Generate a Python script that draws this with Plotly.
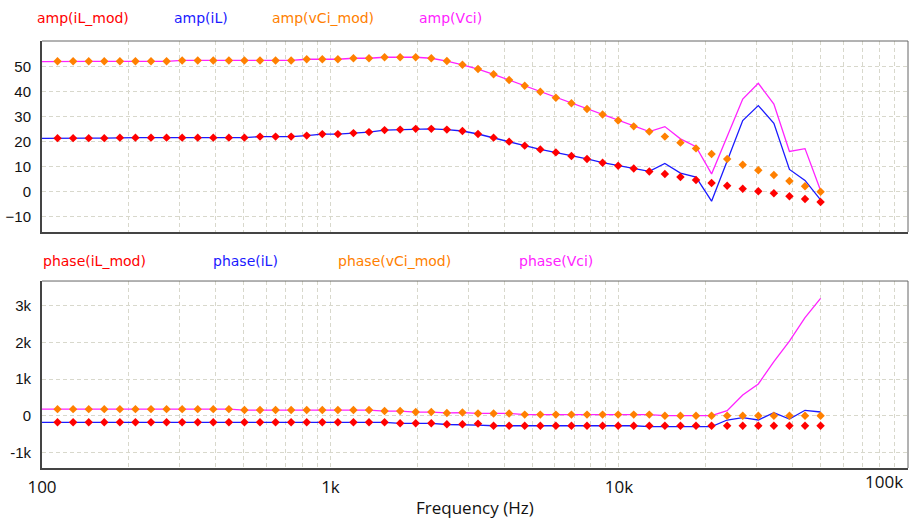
import plotly.graph_objects as go

# Frequency points (Hz); index 0 is the 100 Hz start of the curves
freq = [100, 113.2, 128.2, 145.2, 164.4, 186.2, 210.8, 238.7, 270.3, 306.1, 346.6,
        392.4, 444.4, 503.2, 569.8, 645.2, 730.6, 827.3, 936.8, 1060.8, 1201.1,
        1360.1, 1540.1, 1743.9, 1974.7, 2236.1, 2532.0, 2867.1, 3246.6, 3676.3, 4162.8,
        4713.8, 5337.7, 6044.1, 6844.0, 7750, 8775.7, 9937.2, 11252, 12741, 14427,
        16337, 18499, 20947, 23720, 26859, 30414, 34440, 38998, 44159, 50000]
freq_mod = freq[1:]

# Amplitude
amp_iL_mod = [21.5, 21.5, 21.5, 21.5, 21.7, 21.7, 21.7, 21.7, 21.7, 21.7, 21.7, 21.7, 21.7,
              22.1, 22.1, 22.1, 22.5, 23.1, 23.1, 23.5, 23.9, 24.7, 24.9, 25.2, 25.2, 24.9,
              24.35, 23.15, 21.7, 20.1, 18.5, 17.0, 15.8, 14.4, 13.2, 11.7, 10.5, 9.4, 8.2,
              7.2, 6.0, 4.8, 3.6, 2.5, 1.3, 0.3, -0.5, -1.7, -2.8, -4.0]
amp_iL = [21.4, 21.5, 21.5, 21.5, 21.5, 21.7, 21.7, 21.7, 21.7, 21.7, 21.7, 21.7, 21.7, 21.7,
          22.1, 22.1, 22.1, 22.5, 23.1, 23.1, 23.5, 23.9, 24.7, 24.9, 25.2, 25.2, 24.9,
          24.35, 23.15, 21.7, 20.1, 18.5, 17.0, 15.8, 14.4, 13.2, 11.7, 10.5, 9.4, 8.2,
          11.4, 7.5, 5.9, -3.7, 12.4, 28.5, 34.5, 27.4, 9.0, 4.6, -3.2]
amp_vCi_mod = [52.2, 52.2, 52.2, 52.2, 52.2, 52.2, 52.2, 52.2,
               52.55, 52.55, 52.55, 52.55, 52.55, 52.55, 52.55, 52.55,
               53.0, 53.0, 53.0, 53.4, 53.4, 53.8, 53.8, 53.8, 53.4, 52.3,
               50.8, 49.1, 47.0, 44.7, 42.4, 40.0, 37.6, 35.4, 33.1, 30.9, 28.5, 26.2, 24.1,
               22.1, 19.7, 17.4, 15.2, 13.2, 10.9, 8.7, 6.8, 4.4, 2.3, 0.1]
amp_Vci = [52.1, 52.2, 52.2, 52.2, 52.2, 52.2, 52.2, 52.2, 52.2,
           52.55, 52.55, 52.55, 52.55, 52.55, 52.55, 52.55, 52.55,
           53.0, 53.0, 53.0, 53.4, 53.4, 53.8, 53.8, 53.8, 53.4, 52.3,
           50.8, 49.1, 47.0, 44.7, 42.4, 40.0, 37.6, 35.4, 33.1, 30.9, 28.5, 26.2, 24.1,
           26.1, 21.2, 18.1, 7.2, 22.1, 37.1, 43.4, 35.1, 16.2, 17.3, 0.6]

# Phase
ph_iL_mod = [-180] * 22 + [-208, -208, -208, -235, -235, -217] + [-273] * 22
ph_iL = [-185] * 23 + [-210, -210, -210, -240, -240, -255] + [-275] * 10 + \
        [-300, -300, -300, -300, -300, -118, -55, -118, 82, -90, 148, 101]
ph_vCi_mod = [180] * 12 + [155] * 9 + [128, 128, 100, 100, 75, 85, 62, 62, 62] + \
             [30] * 9 + [0] * 11
ph_Vci = [180] + [180] * 12 + [155] * 9 + [128, 128, 100, 100, 75, 85, 62, 62, 62] + \
         [30] * 9 + [0] * 4 + [137, 566, 867, 1476, 2042, 2680, 3209]

# Axis ticks
x_tickvals = [100, 200, 300, 400, 500, 600, 700, 800, 900,
              1000, 2000, 3000, 4000, 5000, 6000, 7000, 8000, 9000,
              10000, 20000, 30000, 40000, 50000, 60000, 70000, 80000, 90000, 100000]
x_ticktext = ["100", "", "", "", "", "", "", "", "",
              "1k", "", "", "", "", "", "", "", "",
              "10k", "", "", "", "", "", "", "", "", ""]
x_edge_label = "100k"   # drawn right-aligned at the plot edge, as in the reference
amp_ticks = [-10, 0, 10, 20, 30, 40, 50]
ph_ticks = [-1000, 0, 1000, 2000, 3000]
ph_ticktext = ["-1k", "0", "1k", "2k", "3k"]

C_RED = "#ff0000"
C_BLUE = "#1a1aff"
C_ORANGE = "#ff8000"
C_MAG = "#ff22ff"
MSIZE = 6.5

fig = go.Figure()
# top: amplitude
fig.add_trace(go.Scatter(x=freq, y=amp_iL, mode="lines", line=dict(color=C_BLUE, width=1.3),
                         xaxis="x", yaxis="y", name="amp(iL)"))
fig.add_trace(go.Scatter(x=freq, y=amp_Vci, mode="lines", line=dict(color=C_MAG, width=1.3),
                         xaxis="x", yaxis="y", name="amp(Vci)"))
fig.add_trace(go.Scatter(x=freq_mod, y=amp_iL_mod, mode="markers",
                         marker=dict(color=C_RED, symbol="diamond", size=MSIZE),
                         xaxis="x", yaxis="y", name="amp(iL_mod)"))
fig.add_trace(go.Scatter(x=freq_mod, y=amp_vCi_mod, mode="markers",
                         marker=dict(color=C_ORANGE, symbol="diamond", size=MSIZE),
                         xaxis="x", yaxis="y", name="amp(vCi_mod)"))
# bottom: phase
fig.add_trace(go.Scatter(x=freq, y=ph_iL, mode="lines", line=dict(color=C_BLUE, width=1.3),
                         xaxis="x2", yaxis="y2", name="phase(iL)"))
fig.add_trace(go.Scatter(x=freq, y=ph_Vci, mode="lines", line=dict(color=C_MAG, width=1.3),
                         xaxis="x2", yaxis="y2", name="phase(Vci)"))
fig.add_trace(go.Scatter(x=freq_mod, y=ph_iL_mod, mode="markers",
                         marker=dict(color=C_RED, symbol="diamond", size=MSIZE),
                         xaxis="x2", yaxis="y2", name="phase(iL_mod)"))
fig.add_trace(go.Scatter(x=freq_mod, y=ph_vCi_mod, mode="markers",
                         marker=dict(color=C_ORANGE, symbol="diamond", size=MSIZE),
                         xaxis="x2", yaxis="y2", name="phase(vCi_mod)"))

GRID = "#d8d8cc"
xcommon = dict(type="log", range=[2, 5.002], tickvals=x_tickvals, ticktext=x_ticktext,
               showgrid=True, gridcolor=GRID, griddash="4px,3px", gridwidth=1,
               showline=True, linecolor="#444", linewidth=2, zeroline=False)
ycommon = dict(showgrid=True, gridcolor=GRID, griddash="4px,3px", gridwidth=1,
               showline=True, linecolor="#444", linewidth=2, zeroline=False,
               ticks="outside", ticklen=6, tickcolor="rgba(0,0,0,0)",
               tickfont=dict(family="Liberation Sans, Arial", size=15, color="#111"))

XFONT = dict(family="Open Sans, Liberation Sans", size=17, color="#111")

fig.update_layout(
    width=913, height=518,
    margin=dict(l=42, r=5, t=41, b=50),
    paper_bgcolor="white", plot_bgcolor="white",
    showlegend=False,
    xaxis=dict(**xcommon, domain=[0, 1], anchor="y", showticklabels=False, matches="x2"),
    xaxis2=dict(**xcommon, domain=[0, 1], anchor="y2", ticks="outside", ticklen=3,
                tickcolor="rgba(0,0,0,0)", tickfont=XFONT),
    yaxis=dict(**ycommon, domain=[0.5527, 1], range=[-16, 60.3], tickvals=amp_ticks),
    yaxis2=dict(**ycommon, domain=[0, 0.4379], range=[-1430, 3683], tickvals=ph_ticks,
                ticktext=ph_ticktext),
)

# top and right frame edges
for xr, yr in (("x domain", "y domain"), ("x2 domain", "y2 domain")):
    fig.add_shape(type="line", xref=xr, yref=yr, x0=0, x1=1, y0=1, y1=1,
                  line=dict(color="#666", width=1))
    fig.add_shape(type="line", xref=xr, yref=yr, x0=1, x1=1, y0=0, y1=1,
                  line=dict(color="#666", width=1))

# colored text legends
LEGFONT = "DejaVu Sans, Verdana"
top_leg = [("amp(iL_mod)", C_RED, 35), ("amp(iL)", C_BLUE, 172),
           ("amp(vCi_mod)", C_ORANGE, 270), ("amp(Vci)", C_MAG, 417)]
bot_leg = [("phase(iL_mod)", C_RED, 41), ("phase(iL)", C_BLUE, 211),
           ("phase(vCi_mod)", C_ORANGE, 336), ("phase(Vci)", C_MAG, 517)]
PW, PH = 866.0, 427.0
for items, ypx in ((top_leg, 18), (bot_leg, 261)):
    for txt, col, xpx in items:
        fig.add_annotation(text=txt, xref="paper", yref="paper",
                           x=(xpx - 42) / PW, y=(468 - ypx) / PH,
                           xanchor="left", yanchor="middle", showarrow=False,
                           font=dict(family=LEGFONT, size=14, color=col))

# right-edge x tick label
fig.add_annotation(text=x_edge_label, xref="paper", yref="paper",
                   x=(905 - 42) / PW, y=(468 - 481) / PH, xanchor="right",
                   yanchor="middle", showarrow=False, font=XFONT)

fig.add_annotation(text="Frequency (Hz)", xref="paper", yref="paper",
                   x=0.5, y=(468 - 507) / PH, xanchor="center", yanchor="middle",
                   showarrow=False, font=XFONT)

fig.write_html("out.html", config={"displayModeBar": False},
               post_script="document.body.style.margin='0px';document.body.style.overflow='hidden';")
